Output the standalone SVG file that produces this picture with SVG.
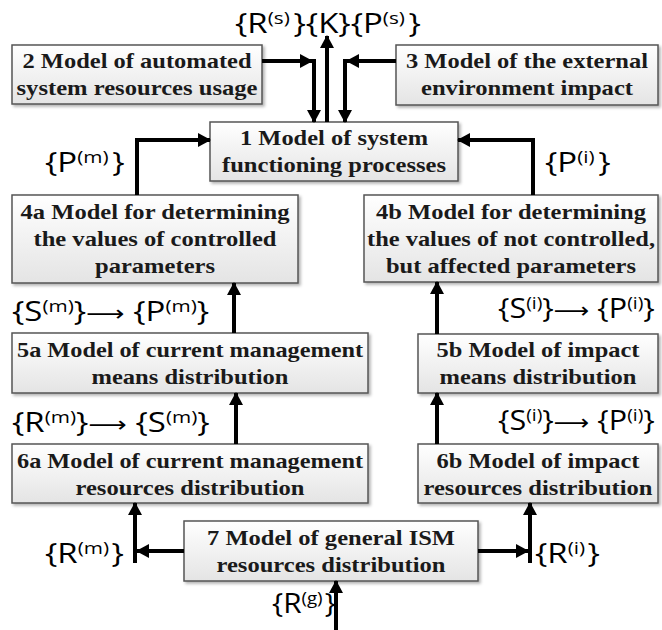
<svg xmlns="http://www.w3.org/2000/svg" width="662" height="630" viewBox="0 0 662 630">
<defs>
<linearGradient id="g" x1="0" y1="0" x2="0" y2="1">
<stop offset="0" stop-color="#ffffff"/>
<stop offset="1" stop-color="#e4e4e4"/>
</linearGradient>
<filter id="sh" x="-5%" y="-5%" width="110%" height="120%">
<feDropShadow dx="2" dy="2" stdDeviation="1.5" flood-color="#000" flood-opacity="0.3"/>
</filter>
<marker id="ah" markerWidth="14" markerHeight="14" refX="12" refY="7" orient="auto" markerUnits="userSpaceOnUse">
<path d="M0,0 L13,7 L0,14 Z" fill="#000"/>
</marker>
</defs>
<style>
.box{fill:url(#g);stroke:#555;stroke-width:1.5;filter:url(#sh)}
.t{font-family:"Liberation Serif","DejaVu Serif",serif;font-weight:bold;font-size:22px;fill:#1a1a1a;text-anchor:middle}
.c{fill:none;stroke:#000;stroke-width:4;marker-end:url(#ah)}
.l{font-family:"Open Sans",sans-serif;font-size:27px;fill:#000}
.s{font-size:17px}
.a{font-family:"DejaVu Sans",sans-serif;font-size:22px}
</style>

<g id="node1"><rect class="box" x="210" y="122" width="248" height="59"/>
<text class="t" x="334" y="145" textLength="188" lengthAdjust="spacingAndGlyphs">1 Model of system</text><text class="t" x="334" y="172" textLength="224" lengthAdjust="spacingAndGlyphs">functioning processes</text></g>
<g id="node2"><rect class="box" x="12" y="45" width="250" height="59"/>
<text class="t" x="137" y="68" textLength="229" lengthAdjust="spacingAndGlyphs">2 Model of automated</text><text class="t" x="137" y="95" textLength="241" lengthAdjust="spacingAndGlyphs">system resources usage</text></g>
<g id="node3"><rect class="box" x="396" y="45" width="262" height="60"/>
<text class="t" x="527" y="68" textLength="242" lengthAdjust="spacingAndGlyphs">3 Model of the external</text><text class="t" x="527" y="95" textLength="212" lengthAdjust="spacingAndGlyphs">environment impact</text></g>
<g id="node4a"><rect class="box" x="12" y="195" width="286" height="88"/>
<text class="t" x="155" y="219" textLength="269" lengthAdjust="spacingAndGlyphs">4a Model for determining</text><text class="t" x="155" y="246" textLength="243" lengthAdjust="spacingAndGlyphs">the values of controlled</text><text class="t" x="155" y="273" textLength="120" lengthAdjust="spacingAndGlyphs">parameters</text></g>
<g id="node4b"><rect class="box" x="364" y="195" width="294" height="87"/>
<text class="t" x="511" y="219" textLength="270" lengthAdjust="spacingAndGlyphs">4b Model for determining</text><text class="t" x="511" y="246" textLength="288" lengthAdjust="spacingAndGlyphs">the values of not controlled,</text><text class="t" x="511" y="273" textLength="250" lengthAdjust="spacingAndGlyphs">but affected parameters</text></g>
<g id="node5a"><rect class="box" x="12" y="333" width="356" height="60"/>
<text class="t" x="190" y="357" textLength="346" lengthAdjust="spacingAndGlyphs">5a Model of current management</text><text class="t" x="190" y="384" textLength="197" lengthAdjust="spacingAndGlyphs">means distribution</text></g>
<g id="node5b"><rect class="box" x="418" y="334" width="240" height="59"/>
<text class="t" x="538" y="357" textLength="203" lengthAdjust="spacingAndGlyphs">5b Model of impact</text><text class="t" x="538" y="384" textLength="197" lengthAdjust="spacingAndGlyphs">means distribution</text></g>
<g id="node6a"><rect class="box" x="12" y="444" width="356" height="59"/>
<text class="t" x="190" y="468" textLength="346" lengthAdjust="spacingAndGlyphs">6a Model of current management</text><text class="t" x="190" y="495" textLength="229" lengthAdjust="spacingAndGlyphs">resources distribution</text></g>
<g id="node6b"><rect class="box" x="418" y="444" width="240" height="59"/>
<text class="t" x="538" y="468" textLength="203" lengthAdjust="spacingAndGlyphs">6b Model of impact</text><text class="t" x="538" y="495" textLength="229" lengthAdjust="spacingAndGlyphs">resources distribution</text></g>
<g id="node7"><rect class="box" x="184" y="521" width="294" height="60"/>
<text class="t" x="331" y="545" textLength="248" lengthAdjust="spacingAndGlyphs">7 Model of general ISM</text><text class="t" x="331" y="572" textLength="229" lengthAdjust="spacingAndGlyphs">resources distribution</text></g>

<g id="connectors">
<path class="c" d="M262,61 H312"/>
<path class="c" d="M314,59 V122"/>
<path class="c" d="M327,122 V36"/>
<path class="c" d="M396,61 H347"/>
<path class="c" d="M345,59 V122"/>
<path class="c" d="M137,195 V140 H210"/>
<path class="c" d="M533,195 V140 H458"/>
<path class="c" d="M234,333 V283"/>
<path class="c" d="M236,444 V393"/>
<path class="c" d="M437,334 V282"/>
<path class="c" d="M437,444 V393"/>
<path class="c" d="M184,551 H137"/>
<path class="c" d="M135,563 V503"/>
<path class="c" d="M478,551 H528"/>
<path class="c" d="M530,563 V503"/>
<path class="c" d="M336,630 V581"/>
</g>

<g id="labels">
<text class="l" transform="translate(235,33) scale(1.22,1)">{R<tspan class="s" dy="-9">(s)</tspan><tspan dx="3" dy="9">}{K}{P</tspan><tspan class="s" dy="-9">(s)</tspan><tspan dx="3" dy="9">}</tspan></text>
<text class="l" transform="translate(45,172) scale(1.22,1)">{P<tspan class="s" dy="-9">(m)</tspan><tspan dx="3" dy="9">}</tspan></text>
<text class="l" transform="translate(545,172) scale(1.22,1)">{P<tspan class="s" dy="-9">(i)</tspan><tspan dx="3" dy="9">}</tspan></text>
<text class="l" transform="translate(12,321) scale(1.22,1)">{S<tspan class="s" dy="-9">(m)</tspan><tspan dy="9">}</tspan><tspan class="a">⟶</tspan> {P<tspan class="s" dy="-9">(m)</tspan><tspan dy="9">}</tspan></text>
<text class="l" transform="translate(498,318) scale(1.13,1)">{S<tspan class="s" dy="-9">(i)</tspan><tspan dy="9">}</tspan><tspan class="a">⟶</tspan> {P<tspan class="s" dy="-9">(i)</tspan><tspan dy="9">}</tspan></text>
<text class="l" transform="translate(12,432) scale(1.22,1)">{R<tspan class="s" dy="-9">(m)</tspan><tspan dy="9">}</tspan><tspan class="a">⟶</tspan> {S<tspan class="s" dy="-9">(m)</tspan><tspan dy="9">}</tspan></text>
<text class="l" transform="translate(498,430) scale(1.13,1)">{S<tspan class="s" dy="-9">(i)</tspan><tspan dy="9">}</tspan><tspan class="a">⟶</tspan> {P<tspan class="s" dy="-9">(i)</tspan><tspan dy="9">}</tspan></text>
<text class="l" transform="translate(45,563) scale(1.22,1)">{R<tspan class="s" dy="-9">(m)</tspan><tspan dx="2" dy="9">}</tspan></text>
<text class="l" transform="translate(535,563) scale(1.22,1)">{R<tspan class="s" dy="-9">(i)</tspan><tspan dx="2" dy="9">}</tspan></text>
<text class="l" transform="translate(272,613) scale(1.1,1)">{R<tspan class="s" dy="-9">(g)</tspan><tspan dx="2" dy="9">}</tspan></text>
</g>
</svg>
